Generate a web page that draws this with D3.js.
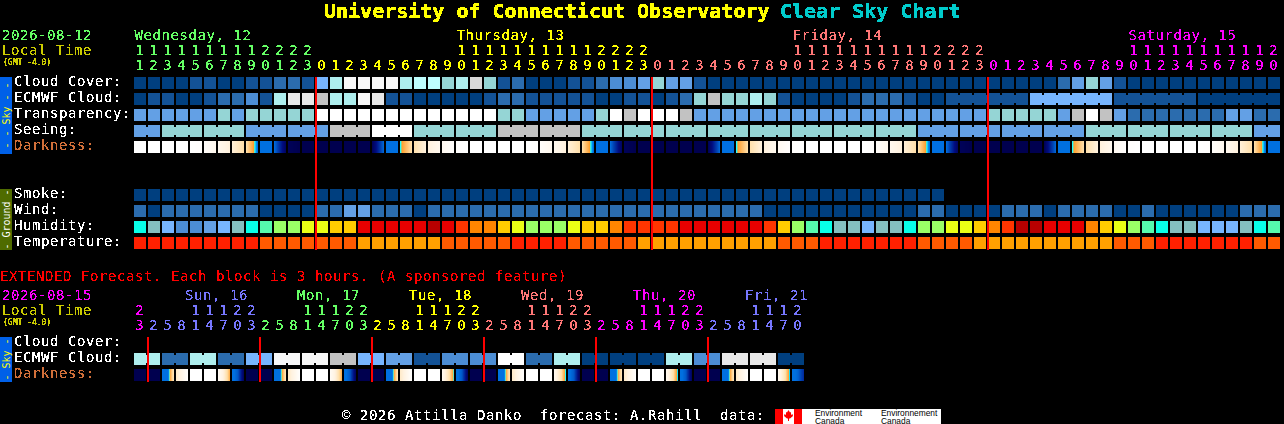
<!DOCTYPE html>
<html><head><meta charset="utf-8">
<script src="https://cdn.jsdelivr.net/npm/d3@7/dist/d3.min.js"></script>
<style>html,body{margin:0;background:#000;overflow:hidden}svg{display:block}text{font-family:"DejaVu Sans Mono",monospace;white-space:pre}</style>
</head><body><svg id="c" width="1284" height="424"></svg>
<script>
// ---- palettes (levels)
const cloudPalette=["#003F7F","#135296","#2B6CAE","#4C8DD4","#63A0E5","#77B5FE","#95D5D5","#AEEEEE","#BEFEFE","#C2C2C2","#D8D8D8","#E8E8E8","#F8F8F8","#FFFFFF"];
const humidityPalette=["#4C8DD4","#63A0E5","#77B5FE","#84BFBF","#08FFE8","#55FAAD","#9AFF66","#EAFF15","#FFCC00","#FF8500","#FF3500","#E80000","#B80000"];
const temperaturePalette=["#FF2000","#FF5A00","#FFA000"];
const darknessKnots=[0,0.5,1,1.4,1.6,1.75,1.95,2.1,3,4,5];
const darknessColors=["#00004F","#000C80","#0040B0","#0070E0","#0070E0","#0090F0","#20FFFF","#FFA030","#FFDFA8","#FFF3E2","#FFFFFF"];
// ---- main chart data, one value per hour
const dayHeaders=[["Wednesday, 12",0,"#66FF66"],["Thursday, 13",23,"#FFFF00"],["Friday, 14",47,"#FF7777"],["Saturday, 15",71,"#FF00FF"]];
const hourColumns=[11,12,13,14,15,16,17,18,19,20,21,22,23,0,1,2,3,4,5,6,7,8,9,10,11,12,13,14,15,16,17,18,19,20,21,22,23,0,1,2,3,4,5,6,7,8,9,10,11,12,13,14,15,16,17,18,19,20,21,22,23,0,1,2,3,4,5,6,7,8,9,10,11,12,13,14,15,16,17,18,19,20];
const hourColorBreaks=[[13,"#66FF66"],[37,"#FFFF00"],[61,"#FF7777"],[82,"#FF00FF"]];
const cloudCover=[0,0,0,0,1,1,0,0,1,1,2,2,1,5,7,12,12,12,12,7,8,8,6,7,10,6,1,2,0,0,0,1,1,2,3,3,4,6,4,4,1,0,0,0,0,0,0,0,0,0,0,0,0,0,0,0,0,0,0,0,0,0,0,0,0,0,2,4,6,4,1,0,0,0,0,0,0,0,0,0,0,0];
const ecmwfCloud=[0,1,1,0,0,1,2,2,3,1,7,11,11,9,7,7,12,11,1,1,0,0,0,0,0,1,2,2,1,1,1,1,1,0,0,1,1,0,1,2,6,9,6,6,7,6,1,0,0,0,0,1,2,2,2,1,0,0,1,1,1,1,1,1,5,5,5,5,5,5,1,1,1,1,1,1,0,0,0,0,0,0];
const ecmwfGroups=[1,1,1,1,1,1,1,1,1,1,1,1,1,1,1,1,1,1,1,1,1,1,1,1,1,1,1,1,1,1,1,1,1,1,1,1,1,1,1,1,1,1,1,1,1,1,1,1,1,1,1,1,1,1,1,1,1,1,6,6,6,6];
const transparency=[4,4,4,4,4,4,6,4,6,6,6,6,6,13,13,13,13,13,13,13,13,13,13,13,13,13,6,6,4,4,4,4,4,6,13,9,13,13,13,9,4,4,4,4,4,4,4,4,4,4,4,4,4,4,4,4,4,4,4,4,4,6,6,6,6,6,4,9,13,9,4,2,2,2,2,2,2,2,4,4,2,2];
const seeing=[4,4,6,6,6,6,6,6,4,4,4,4,4,4,9,9,9,13,13,13,6,6,6,6,6,6,9,9,9,9,9,9,6,6,6,6,6,6,6,6,6,6,6,6,6,6,6,6,6,6,6,6,6,6,6,6,4,4,4,4,4,4,4,4,4,4,4,4,6,6,6,6,6,6,6,6,6,6,6,6,4,4];
const seeingGroups=[2,3,3,3,3,3,3,3,3,3,3,3,3,3,3,3,3,3,3,3,3,3,3,3,3,3,3,2];
const darknessLeft=[5,5,5,5,5,4.8,4.4,3.8,3,1.55,1.35,.1,0,0,0,0,0,.1,1.45,1.95,3.1,3.9,4.5,4.9,5,5,5,5,5,4.8,4.4,3.8,3,1.55,1.35,.1,0,0,0,0,0,.1,1.45,1.95,3.1,3.9,4.5,4.9,5,5,5,5,5,4.8,4.4,3.8,3,1.55,1.35,.1,0,0,0,0,0,.1,1.45,1.95,3.1,3.9,4.5,4.9,5,5,5,5,5,4.8,4.4,3.8,3,1.55];
const darknessRight=[5,5,5,5,4.9,4.4,3.9,3.05,1.6,1.45,.2,0,0,0,0,0,0,1.3,1.55,3,3.9,4.4,4.9,5,5,5,5,5,4.9,4.4,3.9,3.05,1.6,1.45,.2,0,0,0,0,0,0,1.3,1.55,3,3.9,4.4,4.9,5,5,5,5,5,4.9,4.4,3.9,3.05,1.6,1.45,.2,0,0,0,0,0,0,1.3,1.55,3,3.9,4.4,4.9,5,5,5,5,5,4.9,4.4,3.9,3.05,1.6,1.45];
const smoke=[0,0,0,0,0,0,0,0,0,0,0,0,0,0,0,0,0,0,0,0,0,0,0,0,0,0,0,0,0,0,0,0,0,0,0,0,0,0,0,0,0,0,0,0,0,0,0,0,0,0,0,0,0,0,0,0,0,0];
const wind=[2,0,2,2,2,2,2,2,2,0,0,0,0,2,2,4,4,2,2,2,0,2,2,2,2,2,2,2,2,2,2,2,2,2,2,2,2,2,2,2,2,2,2,2,2,0,0,0,0,0,0,0,0,0,0,0,2,2,0,0,0,0,2,2,2,0,2,2,2,2,0,0,2,0,0,0,0,0,0,2,2,2];
const humidity=[4,3,2,0,0,1,2,3,4,5,6,6,7,7,8,8,11,11,11,11,11,12,11,10,9,9,8,7,6,6,6,7,8,8,9,10,10,10,10,11,11,11,11,11,11,10,8,6,5,4,3,3,2,3,3,4,6,6,7,7,8,9,10,12,12,11,11,11,9,8,7,6,5,4,3,3,2,2,2,3,4,5];
const temperature=[0,0,0,0,0,0,0,0,0,1,1,1,1,1,1,1,2,2,2,2,2,2,1,1,1,1,1,0,0,0,0,1,1,1,1,1,2,2,2,2,2,2,2,2,2,2,1,1,1,0,0,0,0,0,0,0,1,1,1,1,2,2,2,2,2,2,2,2,2,2,1,1,1,0,0,0,0,0,0,0,1,1];
const midnightColumns=[13,37,61];
const mainRows=[["Cloud Cover:",77,"#FFF"],["ECMWF Cloud:",93,"#FFF"],["Transparency:",109,"#FFF"],["Seeing:",125,"#FFF"],["Darkness:",141,"#D2703A"],["Smoke:",189,"#FFF"],["Wind:",205,"#FFF"],["Humidity:",221,"#FFF"],["Temperature:",237,"#FFF"]];
// ---- extended forecast data, one value per 3-hour block
const extDayHeaders=[["Sun, 16",3.65,"#7777FF"],["Mon, 17",11.65,"#66FF66"],["Tue, 18",19.65,"#FFFF00"],["Wed, 19",27.65,"#FF7777"],["Thu, 20",35.65,"#FF00FF"],["Fri, 21",43.65,"#7777FF"]];
const extHours=[23,2,5,8,11,14,17,20,23,2,5,8,11,14,17,20,23,2,5,8,11,14,17,20,23,2,5,8,11,14,17,20,23,2,5,8,11,14,17,20,23,2,5,8,11,14,17,20];
const extColorBreaks=[[1,"#FF00FF"],[9,"#7777FF"],[17,"#66FF66"],[25,"#FFFF00"],[33,"#FF7777"],[41,"#FF00FF"],[48,"#7777FF"]];
const extEcmwf=[7,7,2,2,7,7,2,2,5,5,12,12,12,12,9,9,5,5,4,4,1,1,3,3,3,3,13,13,2,2,7,7,0,0,0,0,0,0,7,7,3,3,11,11,11,11,0,0];
const extGroups=[2,2,2,2,2,2,2,2,2,2,2,2,2,2,2,2,2,2,2,2,2,2,2,2];
const extDarkLeft=[0,0,1.5,3.6,5,5,4.6,1.5,0,0,1.5,3.6,5,5,4.6,1.5,0,0,1.5,3.6,5,5,4.4,1.5,0,0,1.5,3.6,5,5,4.4,1.5,0,0,1.5,3.6,5,5,4.4,1.5,0,0,1.5,3.6,5,5,4.4,1.5];
const extDarkMid=[0,0,1.55,4.2,5,5,3.8,1.2,0,0,1.55,4.2,5,5,3.8,1.2,0,0,1.55,4.2,5,5,3.4,1.2,0,0,1.55,4.2,5,5,3.4,1.2,0,0,1.55,4.2,5,5,3.4,1.2,0,0,1.55,4.2,5,5,3.4,1.3];
const extDarkRight=[0,0,3.2,4.9,5,5,2.4,.2,0,0,3.2,4.9,5,5,2.4,.2,0,0,3.2,4.9,5,5,2,.2,0,0,3.2,4.9,5,5,1.95,.2,0,0,3.2,4.9,5,5,1.9,.2,0,0,3.2,4.9,5,5,1.9,.8];
const extMidnights=[1,9,17,25,33,41];
const extRows=[["Cloud Cover:",337,"#FFF"],["ECMWF Cloud:",353,"#FFF"],["Darkness:",369,"#D2703A"]];
const titleParts=[["University of Connecticut Observatory",324,"#FFFF00"],["Clear Sky Chart",780,"#00CCCC"]];

// ---- scales and drawing
const svg=d3.select("#c");
const defs=svg.append("defs");
function thresholdFilter(id,table){
  const f=defs.append("filter").attr("id",id).attr("color-interpolation-filters","sRGB").attr("filterUnits","userSpaceOnUse").attr("x",0).attr("y",0).attr("width",1284).attr("height",424);
  f.append("feComponentTransfer").append("feFuncA").attr("type","discrete").attr("tableValues",table);
}
thresholdFilter("crisp","0 0 1 1 1");
thresholdFilter("crispBold","0 1 1 1 1");
svg.append("rect").attr("width",1284).attr("height",424).attr("fill","#000");
const col=d3.scaleLinear().domain([0,82]).range([134,1282]);
const blockW=col(1)-col(0)-2, blockH=12, bridgeH=8;
const cloudColor=d3.scaleOrdinal(d3.range(cloudPalette.length),cloudPalette);
const humidColor=d3.scaleOrdinal(d3.range(humidityPalette.length),humidityPalette);
const tempColor=d3.scaleOrdinal(d3.range(3),temperaturePalette);
const darkColor=d3.scaleLinear().domain(darknessKnots).range(darknessColors).interpolate(d3.interpolateRgb);
const marks=svg.append("g").attr("shape-rendering","crispEdges");
function blocks(values,y,color){
  marks.append("g").selectAll("rect").data(values).join("rect")
    .attr("x",(d,i)=>col(i)).attr("y",y).attr("width",blockW).attr("height",blockH).attr("fill",d=>color(d));
}
function bridges(values,groups,y,color){
  const joins=[];let s=0;
  groups.forEach(g=>{for(let k=0;k<g-1;k++)joins.push(s+k);s+=g;});
  marks.append("g").selectAll("rect").data(joins).join("rect")
    .attr("x",i=>col(i)+blockW).attr("y",y+(blockH-bridgeH)/2).attr("width",col(1)-col(0)-blockW).attr("height",bridgeH).attr("fill",i=>color(values[i]));
}
function darkness(samples,y){
  const px=d3.range(blockW);
  const g=marks.append("g");
  samples.forEach((s,i)=>{
    const t=d3.scaleLinear().domain(s.map((_,k)=>k*(blockW-1)/(s.length-1))).range(s);
    g.append("g").selectAll("rect").data(px).join("rect")
     .attr("x",p=>col(i)+p).attr("y",y).attr("width",1).attr("height",blockH).attr("fill",p=>darkColor(t(p)));
  });
}
blocks(cloudCover,77,cloudColor);
blocks(ecmwfCloud,93,cloudColor);bridges(ecmwfCloud,ecmwfGroups,93,cloudColor);
blocks(transparency,109,cloudColor);
blocks(seeing,125,cloudColor);bridges(seeing,seeingGroups,125,cloudColor);
darkness(darknessLeft.map((l,i)=>[l,darknessRight[i]]),141);
blocks(smoke,189,cloudColor);
blocks(wind,205,cloudColor);
blocks(humidity,221,humidColor);
blocks(temperature,237,tempColor);
blocks(extEcmwf,353,cloudColor);bridges(extEcmwf,extGroups,353,cloudColor);
darkness(extDarkLeft.map((l,i)=>[l,extDarkMid[i],extDarkRight[i]]),369);
// midnight lines
marks.append("g").selectAll("rect").data(midnightColumns).join("rect")
  .attr("x",c=>col(c)-1).attr("y",77).attr("width",2).attr("height",173).attr("fill","#F00");
marks.append("g").selectAll("rect").data(extMidnights).join("rect")
  .attr("x",c=>col(c)-1).attr("y",337).attr("width",2).attr("height",45).attr("fill","#F00");
// side bars
function sideBar(y,h,fill,label,color){
  marks.append("rect").attr("x",0).attr("y",y).attr("width",12).attr("height",h).attr("fill",fill);
  svg.append("text").attr("transform",`translate(9.5,${y+h/2}) rotate(-90)`).attr("text-anchor","middle")
    .attr("font-size",10).attr("fill",color).text(label);
}
sideBar(77,77,"#0060E8","- - Sky - -","#FFFF00");
sideBar(189,61,"#4F6B00","- Ground -","#FFFFFF");
sideBar(337,45,"#0060E8","- Sky -","#FFFF00");
// text
const txt=svg.append("g").attr("filter","url(#crisp)");
const txtBold=svg.append("g").attr("filter","url(#crispBold)");
function label(s,x,y,size,color,bold,anchor){
  return (bold?txtBold:txt).append("text").attr("x",x).attr("y",y).attr("font-size",size).attr("fill",color)
    .attr("letter-spacing",bold?0:(anchor?0:0.57)).attr("font-weight",bold?"bold":"normal").attr("text-anchor",anchor||"start").text(s);
}
titleParts.forEach(t=>label(t[0],t[1],18,20,t[2],true));
function colorAt(breaks,i){return breaks.find(b=>i<b[0])[1];}
function header(date,dateColor,dayY){
  label(date,2,dayY,14,dateColor);
  label("Local Time",2,dayY+15,14,"#CCCC00");
  txtBold.append("text").attr("x",3).attr("y",dayY+25).attr("font-size",8).attr("fill","#CCCC00").text("(GMT -4.0)");
}
header("2026-08-12","#66FF66",40);
dayHeaders.forEach(d=>label(d[0],col(d[1])+0.5,40,14,d[2]));
hourColumns.forEach((h,i)=>{
  const c=colorAt(hourColorBreaks,i),cx=col(i)+blockW/2-0.5;
  if(h>=10)label(String(Math.floor(h/10)),cx,55,14,c,false,"middle");
  label(String(h%10),cx,70,14,c,false,"middle");
});
mainRows.forEach(r=>label(r[0],14,r[1]+9,14,r[2]));
label("EXTENDED Forecast. Each block is 3 hours. (A sponsored feature)",0,281,14,"#FF0000");
header("2026-08-15","#FF00FF",300);
extDayHeaders.forEach(d=>label(d[0],col(d[1]),300,14,d[2]));
extHours.forEach((h,i)=>{
  const c=colorAt(extColorBreaks,i),cx=col(i)+blockW/2-0.5;
  if(h>=10)label(String(Math.floor(h/10)),cx,315,14,c,false,"middle");
  label(String(h%10),cx,330,14,c,false,"middle");
});
extRows.forEach(r=>label(r[0],14,r[1]+9,14,r[2]));
// footer
label("© 2026 Attilla Danko  forecast: A.Rahill  data:",342,420,14,"#FFF");
marks.append("rect").attr("x",775).attr("y",409).attr("width",166).attr("height",15).attr("fill","#FFF");
marks.append("rect").attr("x",775).attr("y",409).attr("width",8).attr("height",15).attr("fill","#F00");
marks.append("rect").attr("x",794).attr("y",409).attr("width",8).attr("height",15).attr("fill","#F00");
svg.append("path").attr("d","M788.5 410 L790 412.5 L791 412 L791 415 L792.5 414 L793 416 L790 418.5 L789 418.5 L789 421 L788 421 L788 418.5 L787 418.5 L784 416 L784.5 414 L786 415 L786 412 L787 412.5 Z").attr("fill","#F00");
const footMark=svg.append("g");
[["Environment",815,416],["Canada",815,423.5],["Environnement",881,416],["Canada",881,423.5]].forEach(t=>
  footMark.append("text").attr("x",t[1]).attr("y",t[2]).attr("font-size",8.4).attr("fill","#000").attr("style","font-family:'Liberation Sans'").text(t[0]));
</script></body></html>
